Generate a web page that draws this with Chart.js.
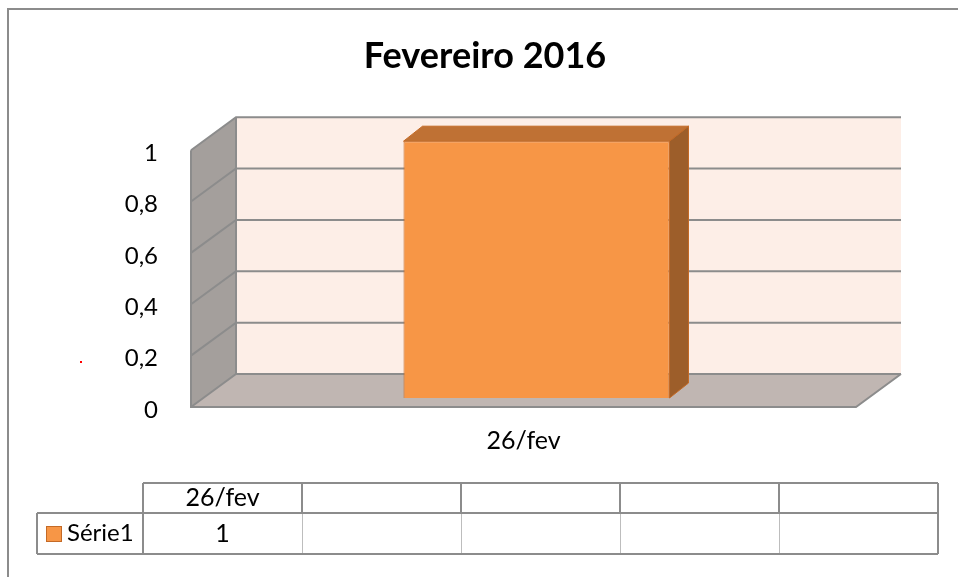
<!DOCTYPE html>
<html>
<head>
<meta charset="utf-8">
<script src="https://cdn.jsdelivr.net/npm/chart.js@4.4.1/dist/chart.umd.min.js"></script>
<style>
  html, body { margin: 0; padding: 0; background: #fff; }
  #wrap { width: 958px; height: 577px; }
</style>
</head>
<body>
<div id="wrap"><canvas id="grafico" width="958" height="577"></canvas></div>
<script>
// Dados
const categorias = ['26/fev'];
const serie1 = [1];
const nomeSerie = 'Série1';
const titulo = 'Fevereiro 2016';
const colunasTabela = 5;

const fonte = 'Lato, "Open Sans", sans-serif';
const cinza = '#8c8c8c';

// profundidade das paredes e da barra
const PAREDE = { dx: 45, dy: -33 };
const BARRA = { dx: 13, dy: -9, px: 19, py: -15 };

const fmt = v => String(Math.round(v * 10) / 10).replace('.', ',');

// Paredes, chão e grelha em 3D
const paredes3d = {
  id: 'paredes3d',
  beforeDatasetsDraw(chart) {
    const { ctx, chartArea: a } = chart;
    const y = chart.scales.y;
    const { dx, dy } = PAREDE;
    ctx.save();
    // parede de fundo
    ctx.fillStyle = '#fdeee7';
    ctx.fillRect(a.left + dx, a.top + dy, a.right - a.left, a.bottom - a.top);
    // parede lateral
    ctx.fillStyle = '#a49f9c';
    ctx.beginPath();
    ctx.moveTo(a.left, a.top);
    ctx.lineTo(a.left + dx, a.top + dy);
    ctx.lineTo(a.left + dx, a.bottom + dy);
    ctx.lineTo(a.left, a.bottom);
    ctx.closePath();
    ctx.fill();
    // chão
    ctx.fillStyle = '#c0b6b2';
    ctx.beginPath();
    ctx.moveTo(a.left, a.bottom);
    ctx.lineTo(a.left + dx, a.bottom + dy);
    ctx.lineTo(a.right + dx, a.bottom + dy);
    ctx.lineTo(a.right, a.bottom);
    ctx.closePath();
    ctx.fill();
    // linhas de grade
    ctx.strokeStyle = cinza;
    ctx.lineWidth = 2;
    y.ticks.forEach(t => {
      const py = y.getPixelForValue(t.value);
      ctx.beginPath();
      ctx.moveTo(a.left, py);
      ctx.lineTo(a.left + dx, py + dy);
      ctx.lineTo(a.right + dx, py + dy);
      ctx.stroke();
    });
    // contornos
    ctx.beginPath();
    ctx.moveTo(a.left, a.top);
    ctx.lineTo(a.left, a.bottom);
    ctx.lineTo(a.right, a.bottom);
    ctx.lineTo(a.right + dx, a.bottom + dy);
    ctx.moveTo(a.left + dx, a.top + dy);
    ctx.lineTo(a.left + dx, a.bottom + dy);
    ctx.stroke();
    ctx.restore();
    // barra deslocada para o meio da profundidade
    ctx.save();
    ctx.translate(BARRA.dx, BARRA.dy);
  },
  afterDatasetsDraw(chart) {
    const { ctx } = chart;
    ctx.restore();
    const { dx, dy, px, py } = BARRA;
    chart.getDatasetMeta(0).data.forEach(bar => {
      const p = bar.getProps(['x', 'y', 'base', 'width'], true);
      const L = p.x - p.width / 2 + dx, R = p.x + p.width / 2 + dx;
      const T = p.y + dy, B = p.base + dy;
      ctx.save();
      ctx.strokeStyle = '#c46a26';
      ctx.lineWidth = 1;
      ctx.fillStyle = '#bf7134';
      ctx.beginPath();
      ctx.moveTo(L, T); ctx.lineTo(L + px, T + py); ctx.lineTo(R + px, T + py); ctx.lineTo(R, T);
      ctx.closePath(); ctx.fill(); ctx.stroke();
      ctx.fillStyle = '#9d5e2a';
      ctx.beginPath();
      ctx.moveTo(R, T); ctx.lineTo(R + px, T + py); ctx.lineTo(R + px, B + py); ctx.lineTo(R, B);
      ctx.closePath(); ctx.fill(); ctx.stroke();
      ctx.restore();
    });
  }
};

// Tabela de dados e moldura
const tabela = {
  id: 'tabela',
  afterDraw(chart) {
    const { ctx } = chart;
    const x0 = 143, w = 159, yTop = 483, yMid = 513, yBot = 554, xLab = 37;
    ctx.save();
    // moldura
    ctx.strokeStyle = cinza;
    ctx.lineWidth = 2;
    ctx.beginPath();
    ctx.moveTo(8, 577); ctx.lineTo(8, 9); ctx.lineTo(958, 9);
    ctx.stroke();
    // pontinho vermelho
    ctx.fillStyle = '#ff0000';
    ctx.fillRect(80, 361, 2, 2);
    // células
    const xEnd = x0 + w * colunasTabela;
    ctx.strokeStyle = '#bdbdbd';
    ctx.lineWidth = 1;
    for (let i = 1; i < colunasTabela; i++) {
      ctx.beginPath();
      ctx.moveTo(x0 + w * i + 0.5, yMid); ctx.lineTo(x0 + w * i + 0.5, yBot);
      ctx.stroke();
    }
    ctx.strokeStyle = cinza;
    ctx.lineWidth = 2;
    ctx.beginPath();
    ctx.moveTo(x0, yTop); ctx.lineTo(xEnd, yTop);
    ctx.moveTo(xLab, yMid); ctx.lineTo(xEnd, yMid);
    ctx.moveTo(xLab, yBot); ctx.lineTo(xEnd, yBot);
    ctx.moveTo(xLab, yMid); ctx.lineTo(xLab, yBot);
    ctx.moveTo(x0, yTop); ctx.lineTo(x0, yBot);
    ctx.moveTo(xEnd, yTop); ctx.lineTo(xEnd, yBot);
    for (let i = 1; i < colunasTabela; i++) {
      ctx.moveTo(x0 + w * i, yTop); ctx.lineTo(x0 + w * i, yMid);
    }
    ctx.stroke();
    // textos
    ctx.fillStyle = '#000';
    ctx.font = '25px ' + fonte;
    ctx.textAlign = 'center';
    ctx.textBaseline = 'middle';
    for (let i = 0; i < colunasTabela; i++) {
      const cx = x0 + w * i + w / 2;
      if (categorias[i] !== undefined) ctx.fillText(categorias[i], cx, (yTop + yMid) / 2);
      if (serie1[i] !== undefined) ctx.fillText(fmt(serie1[i]), cx, (yMid + yBot) / 2);
    }
    // legenda
    ctx.fillStyle = '#f79646';
    ctx.strokeStyle = '#c46a26';
    ctx.lineWidth = 1;
    ctx.fillRect(46, 526, 16, 16);
    ctx.strokeRect(46.5, 526.5, 15, 15);
    ctx.fillStyle = '#000';
    ctx.textAlign = 'left';
    ctx.font = '24px ' + fonte;
    ctx.fillText(nomeSerie, 67, (yMid + yBot) / 2);
    ctx.restore();
  }
};

new Chart(document.getElementById('grafico'), {
  type: 'bar',
  data: {
    labels: categorias,
    datasets: [{
      label: nomeSerie,
      data: serie1,
      backgroundColor: '#f79646',
      borderColor: '#c46a26',
      borderWidth: 1,
      barPercentage: 0.4,
      categoryPercentage: 1
    }]
  },
  options: {
    responsive: false,
    animation: false,
    layout: { padding: { left: 114, right: 102, top: 0, bottom: 0 } },
    plugins: {
      legend: { display: false },
      tooltip: { enabled: false },
      title: {
        display: true,
        text: titulo,
        color: '#000',
        font: { family: fonte, size: 36, weight: 'bold' },
        padding: { top: 35, bottom: 72 }
      }
    },
    scales: {
      x: {
        grid: { display: false },
        border: { display: false },
        ticks: { color: '#000', padding: 11, font: { family: fonte, size: 25 } },
        afterFit: s => { s.height = 170; }
      },
      y: {
        min: 0,
        max: 1,
        grid: { display: false },
        border: { display: false },
        ticks: {
          stepSize: 0.2,
          color: '#000',
          padding: 25,
          labelOffset: 3,
          font: { family: fonte, size: 24 },
          callback: v => fmt(v)
        },
        afterFit: s => { s.width = 77; }
      }
    }
  },
  plugins: [paredes3d, tabela]
});
</script>
</body>
</html>
